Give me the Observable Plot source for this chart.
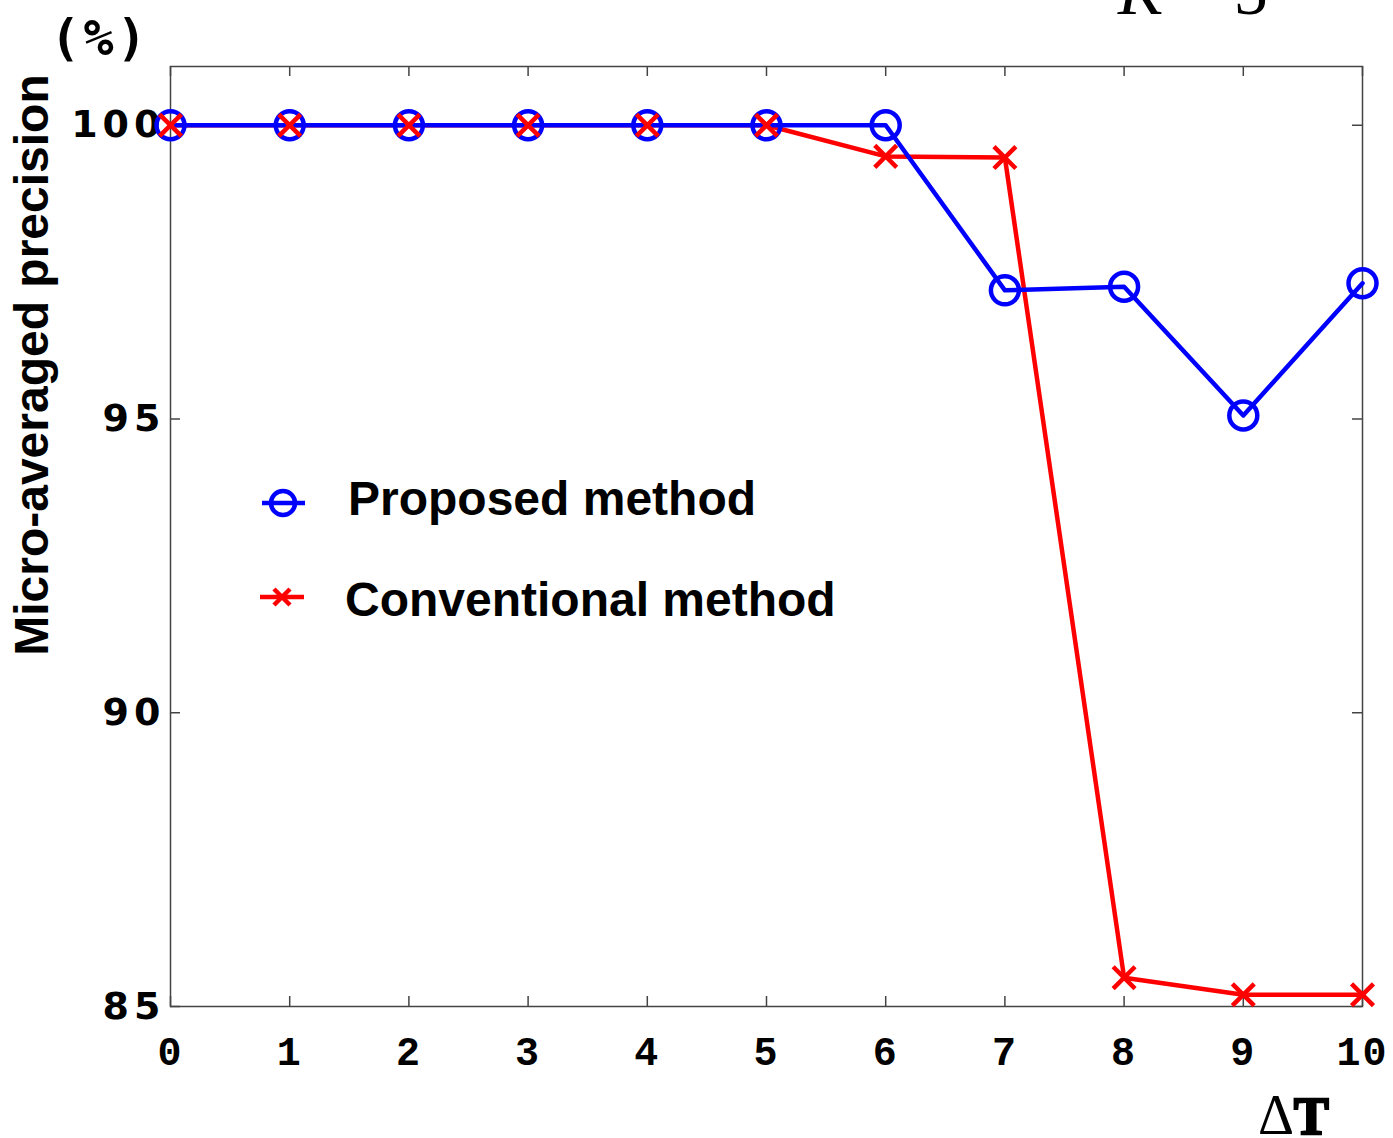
<!DOCTYPE html>
<html>
<head>
<meta charset="utf-8">
<script src="https://cdn.jsdelivr.net/npm/d3@7"></script>
<script src="https://cdn.jsdelivr.net/npm/@observablehq/plot@0.6"></script>
<style>
  html, body { margin: 0; padding: 0; background: #fff; }
  #wrap { position: relative; width: 1393px; height: 1138px; overflow: hidden; }
  #wrap > svg.plot { position: absolute; left: 0; top: 0; }
  #overlay { position: absolute; left: 0; top: 0; pointer-events: none; }
  g[aria-label="y-axis tick label"] text { letter-spacing: 5px; }
  g[aria-label="x-axis tick label"] text { letter-spacing: 2px; }
</style>
</head>
<body>
<div id="wrap"></div>
<script>
// ---- data ----
const xValues = [0, 1, 2, 3, 4, 5, 6, 7, 8, 9, 10];
const proposed = [100, 100, 100, 100, 100, 100, 100, 97.19, 97.25, 95.06, 97.31];
const conventional = [100, 100, 100, 100, 100, 100, 99.47, 99.45, 85.49, 85.2, 85.2];
const xTicks = [0, 1, 2, 3, 4, 5, 6, 7, 8, 9, 10];
const yTicks = [85, 90, 95, 100];
const seriesNames = ["Proposed method", "Conventional method"];
const yTitle = "Micro-averaged precision";

const proposedData = xValues.map((x, i) => ({x, y: proposed[i]}));
const conventionalData = xValues.map((x, i) => ({x, y: conventional[i]}));

const W = 1393, H = 1138;
const mL = 170, mR = 31, mT = 66, mB = 132;
const frameW = W - mL - mR, frameH = H - mT - mB;
const tickLen = 10;
const blue = "#0000ff", red = "#ff0000", axisColor = "#444";
const fmt = d => String(d);

const chart = Plot.plot({
  width: W, height: H,
  marginLeft: mL, marginRight: mR, marginTop: mT, marginBottom: mB,
  x: {domain: [0, 10], axis: null},
  y: {domain: [85, 101], axis: null},
  style: {background: "transparent", overflow: "visible"},
  marks: [
    Plot.frame({stroke: axisColor, strokeWidth: 1.5}),
    // inward ticks on all four sides
    Plot.tickX(xTicks, {x: d => d, insetTop: frameH - tickLen, stroke: axisColor, strokeWidth: 1.5}),
    Plot.tickX(xTicks, {x: d => d, insetBottom: frameH - tickLen, stroke: axisColor, strokeWidth: 1.5}),
    Plot.tickY(yTicks, {y: d => d, insetRight: frameW - tickLen, stroke: axisColor, strokeWidth: 1.5}),
    Plot.tickY(yTicks, {y: d => d, insetLeft: frameW - tickLen, stroke: axisColor, strokeWidth: 1.5}),
    Plot.axisX(xTicks, {anchor: "bottom", tickSize: 0, tickPadding: 30, label: null, tickFormat: fmt,
      fontSize: 40, fontFamily: "Liberation Mono", fontWeight: "bold", fill: "#000",
      stroke: "#000", strokeWidth: 0.8}),
    Plot.axisY(yTicks, {anchor: "left", tickSize: 0, tickPadding: 5, label: null, tickFormat: fmt,
      fontSize: 38, fontFamily: "DejaVu Sans", fontWeight: "bold", fill: "#000"}),
    // series
    Plot.line(conventionalData, {x: "x", y: "y", stroke: red, strokeWidth: 4.5}),
    Plot.line(proposedData, {x: "x", y: "y", stroke: blue, strokeWidth: 4.5}),
    Plot.dot(proposedData, {x: "x", y: "y", r: 14, stroke: blue, strokeWidth: 4.5, fill: "none"}),
    Plot.dot(conventionalData, {x: "x", y: "y", r: 10, symbol: "times", stroke: red, strokeWidth: 4.5})
  ]
});
chart.classList.add("plot");
document.getElementById("wrap").appendChild(chart);

// ---- annotations & legend overlay ----
const ns = "http://www.w3.org/2000/svg";
const ov = document.createElementNS(ns, "svg");
ov.setAttribute("id", "overlay");
ov.setAttribute("width", W);
ov.setAttribute("height", H);
ov.innerHTML = `
  <text x="100" y="38" text-anchor="middle" dominant-baseline="central"
        font-family="DejaVu Sans Mono" font-weight="bold" font-size="50" letter-spacing="3">(%)</text>
  <text transform="translate(48,365) rotate(-90)" text-anchor="middle"
        font-family="Liberation Sans" font-weight="bold" font-size="48">${yTitle}</text>
  <text x="1118" y="14" font-family="Liberation Serif" font-size="68"><tspan font-style="italic">K</tspan><tspan dx="14">=</tspan><tspan dx="18">5</tspan></text>
  <text x="1258" y="1134" font-family="Liberation Serif" font-size="56">Δ<tspan font-weight="bold" font-size="52" stroke="#000" stroke-width="2.5">T</tspan></text>
  <g stroke-width="4.5" fill="none">
    <line x1="262" x2="305" y1="503" y2="503" stroke="${blue}"/>
    <circle cx="283" cy="503" r="12" stroke="${blue}"/>
    <line x1="260" x2="304" y1="597" y2="597" stroke="${red}"/>
    <path d="M274,589L290,605M290,589L274,605" stroke="${red}"/>
  </g>
  <text x="348" y="515" font-family="Liberation Sans" font-weight="bold" font-size="48">${seriesNames[0]}</text>
  <text x="345" y="616" font-family="Liberation Sans" font-weight="bold" font-size="48">${seriesNames[1]}</text>
`;
document.getElementById("wrap").appendChild(ov);
</script>
</body>
</html>
